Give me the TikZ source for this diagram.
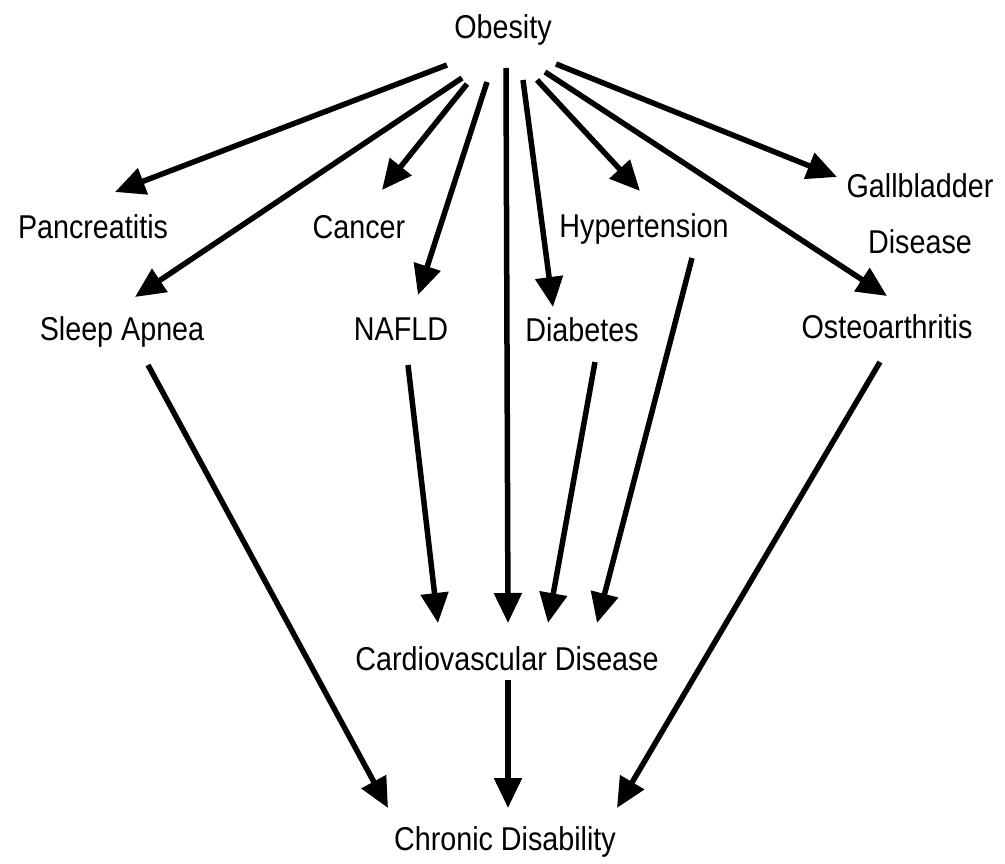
\documentclass[tikz,border=0pt]{standalone}
\usepackage{fontspec}
\setmainfont{Liberation Sans}[FakeStretch=0.87]
\usetikzlibrary{arrows.meta, calc}

\begin{document}
\begin{tikzpicture}[x=1pt, y=-1pt,
  lab/.style={inner sep=0pt, anchor=base, font=\fontsize{33}{56}\selectfont},
  arr/.style={line width=5.5pt, -{Triangle[length=30pt, width=27pt]}}]
  \useasboundingbox (0,0) rectangle (1005,864);

  \node[lab] (ob) at (503,39) {Obesity};
  \node[lab] (pan) at (93,238) {Pancreatitis};
  \node[lab] (can) at (359,238) {Cancer};
  \node[lab] (hyp) at (644,237) {Hypertension};
  \node[lab, align=center] (gall) at (920,253) {Gallbladder\\Disease};
  \node[lab] (sleep) at (122,340) {Sleep Apnea};
  \node[lab] (nafld) at (401,340) {NAFLD};
  \node[lab] (diab) at (582,341) {Diabetes};
  \node[lab] (osteo) at (887,338) {Osteoarthritis};
  \node[lab] (cvd) at (507,670) {Cardiovascular Disease};
  \node[lab] (chron) at (505,850) {Chronic Disability};

  \draw[arr] ($(ob.base)+(-56,26)$) -- ($(pan.base)+(22,-46)$);
  \draw[arr] ($(ob.base)+(-41,39)$) -- ($(sleep.base)+(13,-43)$);
  \draw[arr] ($(ob.base)+(-36,45)$) -- ($(can.base)+(23,-48)$);
  \draw[arr] ($(ob.base)+(-16,43)$) -- ($(nafld.base)+(17,-45)$);
  \draw[arr] ($(ob.base)+(3,29)$) -- ($(cvd.base)+(1,-47)$);
  \draw[arr] ($(ob.base)+(20,41)$) -- ($(diab.base)+(-29,-34)$);
  \draw[arr] ($(ob.base)+(34,41)$) -- ($(hyp.base)+(-4,-46)$);
  \draw[arr] ($(ob.base)+(42,33)$) -- ($(osteo.base)+(0,-42)$);
  \draw[arr] ($(ob.base)+(53,25)$) -- ($(gall.base)+(-83,-76)$);

  \draw[arr] ($(sleep.base)+(26,25)$) -- ($(chron.base)+(-117,-42)$);
  \draw[arr] ($(nafld.base)+(7,25)$) -- ($(cvd.base)+(-69,-47)$);
  \draw[arr] ($(diab.base)+(13,21)$) -- ($(cvd.base)+(41,-47)$);
  \draw[arr] ($(hyp.base)+(48,21)$) -- ($(cvd.base)+(90,-47)$);
  \draw[arr] ($(osteo.base)+(-7,24)$) -- ($(chron.base)+(112,-42)$);
  \draw[arr] ($(cvd.base)+(1,10)$) -- ($(chron.base)+(3,-42)$);
\end{tikzpicture}
\end{document}
